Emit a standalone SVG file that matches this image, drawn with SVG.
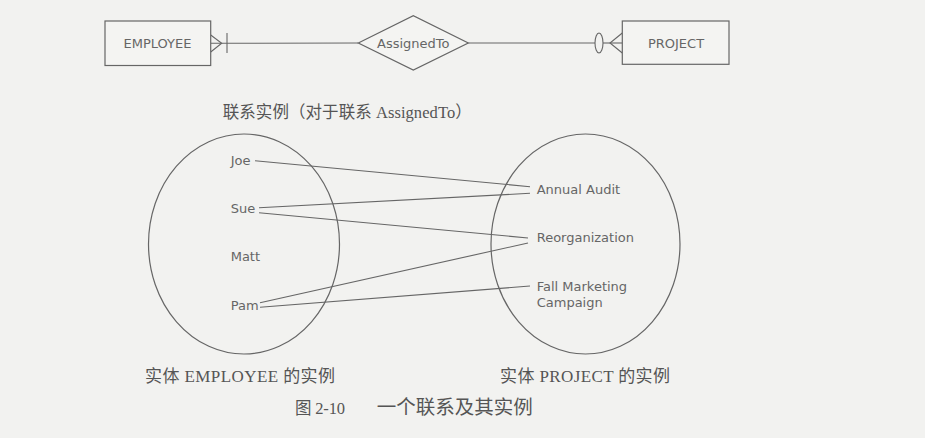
<svg xmlns="http://www.w3.org/2000/svg" width="925" height="438" viewBox="0 0 925 438">
<style>
.bg{fill:#f2f2f0}
.shape{fill:none;stroke:#666;stroke-width:1.2}
.box{fill:#f4f4f2;stroke:#666;stroke-width:1.2}
.lbl{font-family:"DejaVu Sans","Verdana",sans-serif;font-size:13px;fill:#666}
.cn{font-family:"Liberation Serif","Noto Sans CJK SC",serif;font-size:17px;fill:#555}
.conn{fill:none;stroke:#666;stroke-width:1.1}
</style>
<rect class="bg" x="0" y="0" width="925" height="438"/>

<g id="connectors">
  <line class="conn" x1="210.7" y1="43.3" x2="358.3" y2="43"/>
  <polyline class="conn" points="210.7,35 221.7,43.3 210.7,52"/>
  <line class="conn" x1="227" y1="33" x2="227" y2="53"/>
  <line class="conn" x1="468.3" y1="43" x2="595" y2="43"/>
  <ellipse class="conn" cx="599" cy="43" rx="4" ry="10"/>
  <line class="conn" x1="603" y1="43" x2="622.3" y2="43"/>
  <polyline class="conn" points="622.3,33 610,43 622.3,53"/>

  <line class="conn" x1="255" y1="160.7" x2="530" y2="186.7"/>
  <line class="conn" x1="259" y1="207.7" x2="530" y2="193.3"/>
  <line class="conn" x1="259" y1="212.7" x2="528" y2="238"/>
  <line class="conn" x1="260" y1="302.7" x2="528" y2="243"/>
  <line class="conn" x1="260" y1="307.3" x2="530" y2="286"/>
</g>

<g id="employee">
  <rect class="box" x="105" y="21" width="105.7" height="44.5"/>
  <text class="lbl" x="157.5" y="48" text-anchor="middle">EMPLOYEE</text>
</g>
<g id="assignedTo">
  <polygon class="box" points="358.3,43 413.3,15.7 468.3,43 413.3,70"/>
  <text class="lbl" x="413.3" y="47.7" text-anchor="middle">AssignedTo</text>
</g>
<g id="project">
  <rect class="box" x="622.3" y="21" width="106.7" height="43.3"/>
  <text class="lbl" x="676" y="47.5" text-anchor="middle">PROJECT</text>
</g>

<text class="cn" x="222.7" y="118" style="font-size:16.5px" textLength="249">联系实例（对于联系 AssignedTo）</text>

<g id="employee-instances">
  <ellipse class="shape" cx="244" cy="244" rx="95.5" ry="110"/>
  <text class="lbl" x="230.7" y="164.7">Joe</text>
  <text class="lbl" x="230.7" y="212.7">Sue</text>
  <text class="lbl" x="230.7" y="261.4">Matt</text>
  <text class="lbl" x="230.7" y="309.7">Pam</text>
</g>
<g id="project-instances">
  <ellipse class="shape" cx="585.5" cy="244" rx="94.5" ry="110"/>
  <text class="lbl" x="536.7" y="194">Annual Audit</text>
  <text class="lbl" x="536.7" y="242">Reorganization</text>
  <text class="lbl" x="536.7" y="291">Fall Marketing</text>
  <text class="lbl" x="536.7" y="306.5">Campaign</text>
</g>

<text class="cn" x="145" y="382" textLength="190">实体 EMPLOYEE 的实例</text>
<text class="cn" x="500" y="382" textLength="170">实体 PROJECT 的实例</text>
<text class="cn" x="295" y="413.5" style="font-size:16.5px" textLength="50">图 2-10</text>
<text class="cn" x="376.7" y="414" style="font-size:19.5px" textLength="156">一个联系及其实例</text>
</svg>
